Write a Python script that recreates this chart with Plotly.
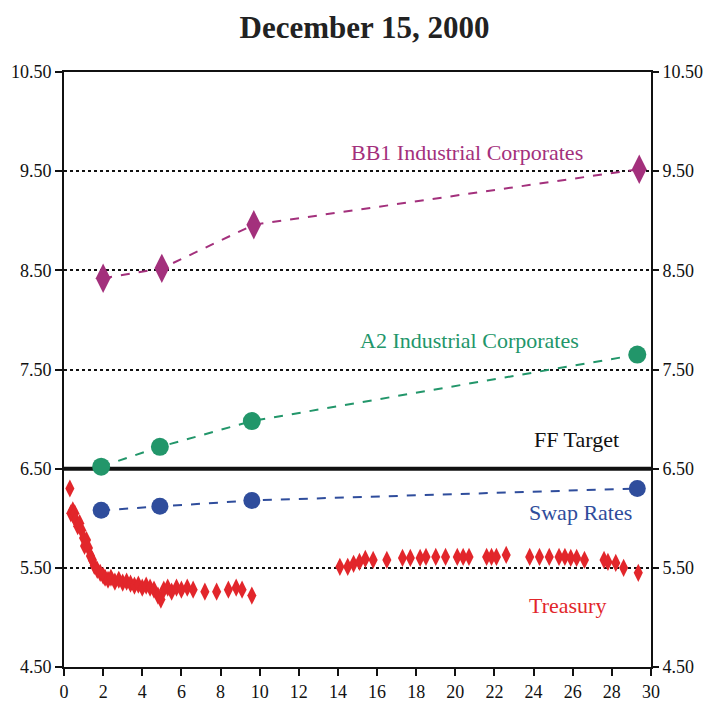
import plotly.graph_objects as go

# ---- data ----
bb1_x = [2, 5, 9.7, 29.4]
bb1_y = [8.42, 8.52, 8.96, 9.52]

a2_x = [1.9, 4.9, 9.6, 29.3]
a2_y = [6.52, 6.72, 6.98, 7.65]

swap_x = [1.9, 4.9, 9.6, 29.3]
swap_y = [6.08, 6.12, 6.18, 6.30]

ff_x = [0, 30]
ff_y = [6.5, 6.5]

tsy_x = [0.3, 0.35, 0.45, 0.5, 0.55, 0.6, 0.7, 0.8, 0.9, 1.0, 1.05, 1.15, 1.25, 1.35,
         1.45, 1.55, 1.7, 1.85, 2.0, 2.1, 2.25, 2.4, 2.6, 2.8, 3.0, 3.2, 3.4, 3.6, 3.8,
         4.0, 4.2, 4.4, 4.6, 4.8, 4.95, 5.1, 5.3, 5.5, 5.75, 6.0, 6.3, 6.6, 7.2, 7.8,
         8.4, 8.8, 9.1, 9.6,
         14.1, 14.5, 14.8, 15.1, 15.4, 15.8, 16.5, 17.3, 17.7, 18.2, 18.5, 19.0, 19.5,
         20.1, 20.4, 20.7, 21.6, 21.85, 22.1, 22.6, 23.8, 24.3, 24.8, 25.3, 25.6, 25.9,
         26.2, 26.6, 27.6, 27.8, 28.2, 28.6, 29.35]
tsy_y = [6.30, 6.05, 6.08, 6.02, 6.05, 5.98, 5.92, 5.95, 5.88, 5.80, 5.72, 5.78, 5.70, 5.62,
         5.58, 5.52, 5.48, 5.45, 5.42, 5.40, 5.38, 5.40, 5.36, 5.38, 5.35, 5.36, 5.34, 5.32,
         5.33, 5.30, 5.32, 5.30, 5.28, 5.22, 5.18, 5.28, 5.30, 5.26, 5.30, 5.28, 5.30, 5.28,
         5.26, 5.26, 5.28, 5.30, 5.28, 5.22,
         5.51, 5.51, 5.54, 5.56, 5.59, 5.58, 5.58, 5.60, 5.60, 5.60, 5.61, 5.61, 5.61,
         5.61, 5.61, 5.61, 5.61, 5.61, 5.61, 5.63, 5.61, 5.61, 5.61, 5.61, 5.61, 5.60,
         5.60, 5.58, 5.58, 5.56, 5.55, 5.50, 5.45]

x_ticks = list(range(0, 31, 2))
y_ticks = [4.5, 5.5, 6.5, 7.5, 8.5, 9.5, 10.5]
y_labels = ["4.50", "5.50", "6.50", "7.50", "8.50", "9.50", "10.50"]

# ---- styles ----
PURPLE = "#a3307c"
GREEN = "#22966a"
BLUE = "#2f4d9c"
RED = "#e2262b"
SERIF = "Liberation Serif"

fig = go.Figure()

fig.add_trace(go.Scatter(x=ff_x, y=ff_y, mode="lines",
                         line=dict(color="#111111", width=4), hoverinfo="skip"))
fig.add_trace(go.Scatter(x=bb1_x, y=bb1_y, mode="lines+markers",
                         line=dict(color=PURPLE, width=2, dash="dash"),
                         marker=dict(symbol="diamond-tall", size=21, color=PURPLE)))
fig.add_trace(go.Scatter(x=a2_x, y=a2_y, mode="lines+markers",
                         line=dict(color=GREEN, width=2, dash="dash"),
                         marker=dict(symbol="circle", size=18, color=GREEN)))
fig.add_trace(go.Scatter(x=swap_x, y=swap_y, mode="lines+markers",
                         line=dict(color=BLUE, width=2, dash="dash"),
                         marker=dict(symbol="circle", size=17, color=BLUE)))
fig.add_trace(go.Scatter(x=tsy_x, y=tsy_y, mode="markers",
                         marker=dict(symbol="diamond-tall", size=13, color=RED)))
# invisible trace on right axis
fig.add_trace(go.Scatter(x=[0], y=[4.5], yaxis="y2", mode="markers",
                         marker=dict(opacity=0), hoverinfo="skip"))

axis_font = dict(family=SERIF, size=18, color="#111111")

# page body has an 8px default margin, so the figure is sized to fit the window
fig.update_layout(
    width=713, height=702,
    margin=dict(l=56, r=70, t=64, b=43),
    paper_bgcolor="white", plot_bgcolor="white",
    showlegend=False,
    title=dict(text="<b>December 15, 2000</b>", x=0.5, xanchor="center",
               y=0.973, yanchor="middle",
               font=dict(family=SERIF, size=31, color="#222222")),
    xaxis=dict(range=[0, 30], tickvals=x_ticks, ticktext=[str(v) for v in x_ticks],
               ticks="outside", ticklen=7, tickwidth=1.5, tickcolor="#111111",
               showline=True, linecolor="#111111", linewidth=2, mirror=True,
               showgrid=False, zeroline=False, tickfont=axis_font, automargin=False),
    yaxis=dict(range=[4.5, 10.5], tickvals=y_ticks, ticktext=y_labels,
               ticks="outside", ticklen=7, tickwidth=1.5, tickcolor="#111111",
               showline=True, linecolor="#111111", linewidth=2, mirror=True,
               showgrid=True, gridcolor="#111111", gridwidth=2, griddash="dot",
               zeroline=False, tickfont=axis_font, automargin=False),
    yaxis2=dict(range=[4.5, 10.5], overlaying="y", side="right", matches="y",
                tickvals=y_ticks, ticktext=y_labels,
                ticks="outside", ticklen=7, tickwidth=1.5, tickcolor="#111111",
                showline=False, showgrid=False, zeroline=False, tickfont=axis_font,
                automargin=False),
)

ann_font = lambda c: dict(family=SERIF, size=22, color=c)
fig.add_annotation(x=20.6, y=9.69, text="BB1 Industrial Corporates", showarrow=False,
                   font=ann_font(PURPLE))
fig.add_annotation(x=20.7, y=7.79, text="A2 Industrial Corporates", showarrow=False,
                   font=ann_font(GREEN))
fig.add_annotation(x=26.2, y=6.79, text="FF Target", showarrow=False,
                   font=ann_font("#111111"))
fig.add_annotation(x=26.4, y=6.06, text="Swap Rates", showarrow=False,
                   font=ann_font(BLUE))
fig.add_annotation(x=25.75, y=5.12, text="Treasury", showarrow=False,
                   font=ann_font(RED))

fig.write_html("out.html")
